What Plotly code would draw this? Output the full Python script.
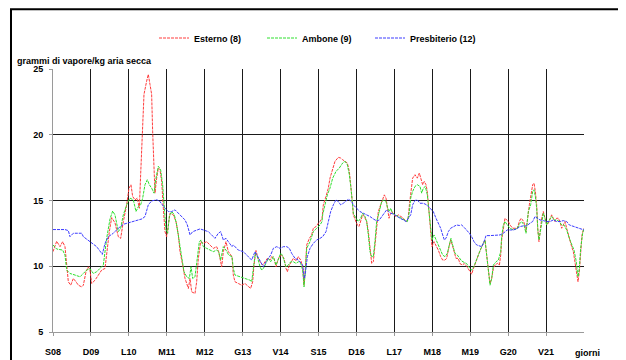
import plotly.graph_objects as go

day_labels = ["S08", "D09", "L10", "M11", "M12", "G13", "V14",
              "S15", "D16", "L17", "M18", "M19", "G20", "V21"]
day_pos = list(range(len(day_labels)))
y_ticks = [5, 10, 15, 20, 25]

esterno_t = [0.00, 0.097, 0.185, 0.255, 0.316, 0.36, 0.404, 0.466, 0.536, 0.606, 0.668, 0.756, 0.80, 0.87, 0.931, 0.975,
             1.02, 1.107, 1.195, 1.283, 1.371, 1.415, 1.485, 1.547, 1.635, 1.722, 1.784, 1.854, 1.942, 2.004, 2.056, 2.10,
             2.162, 2.223, 2.276, 2.311, 2.346, 2.399, 2.469, 2.513, 2.557, 2.601, 2.627, 2.663, 2.689, 2.733, 2.777, 2.821,
             2.865, 2.909, 2.953, 2.997, 3.041, 3.085, 3.173, 3.243, 3.305, 3.349, 3.419, 3.481, 3.569, 3.613, 3.657, 3.744,
             3.788, 3.832, 3.893, 3.964, 4.052, 4.139, 4.227, 4.315, 4.368, 4.403, 4.447, 4.491, 4.561, 4.623, 4.720, 4.754,
             4.798, 4.886, 4.974, 5.062, 5.150, 5.211, 5.264, 5.299, 5.352, 5.396, 5.458, 5.528, 5.590, 5.651, 5.722, 5.766,
             5.827, 5.880, 5.915, 5.968, 6.030, 6.091, 6.144, 6.179, 6.232, 6.293, 6.337, 6.381, 6.425, 6.469, 6.531, 6.583,
             6.618, 6.653, 6.689, 6.759, 6.820, 6.864, 6.935, 6.996, 7.040, 7.093, 7.127, 7.198, 7.259, 7.303, 7.374, 7.435,
             7.523, 7.584, 7.637, 7.699, 7.760, 7.813, 7.856, 7.892, 7.918, 7.962, 8.023, 8.067, 8.111, 8.164, 8.208, 8.270,
             8.314, 8.358, 8.402, 8.445, 8.489, 8.533, 8.577, 8.639, 8.692, 8.736, 8.780, 8.824, 8.859, 8.886, 8.930, 8.991,
             9.044, 9.106, 9.168, 9.238, 9.309, 9.361, 9.396, 9.431, 9.482, 9.544, 9.605, 9.658, 9.702, 9.746, 9.790, 9.834,
             9.869, 9.913, 9.957, 9.992, 10.045, 10.098, 10.159, 10.221, 10.274, 10.335, 10.379, 10.432, 10.484, 10.528,
             10.572, 10.625, 10.686, 10.730, 10.792, 10.845, 10.906, 10.977, 11.038, 11.082, 11.126, 11.170, 11.232, 11.285,
             11.346, 11.390, 11.434, 11.478, 11.522, 11.566, 11.610, 11.654, 11.716, 11.769, 11.804, 11.829, 11.873, 11.917,
             11.961, 12.005, 12.049, 12.119, 12.180, 12.242, 12.295, 12.339, 12.383, 12.427, 12.471, 12.515, 12.559, 12.603,
             12.647, 12.682, 12.717, 12.752, 12.778, 12.813, 12.840, 12.884, 12.928, 12.972, 13.016, 13.060, 13.104, 13.147,
             13.191, 13.235, 13.279, 13.323, 13.367, 13.411, 13.455, 13.499, 13.543, 13.587, 13.631, 13.675, 13.719, 13.763,
             13.807, 13.842, 13.877, 13.912, 13.947, 13.982, 14.0]
esterno_v = [11.11, 11.9, 11.49, 11.87, 11.49, 10.09, 8.82, 8.56, 9.07, 8.82, 8.56, 8.43, 8.56, 9.58, 9.96, 9.71,
             8.69, 8.94, 9.33, 9.71, 9.83, 11.11, 12.63, 13.7, 13.3, 12.25, 12.12, 13.40, 14.67, 15.94, 16.20, 15.31,
             15.05, 15.18, 14.41, 16.96, 19.25, 23.07, 24.08, 24.59, 23.83, 23.07, 20.27, 16.96, 15.56, 16.70, 17.47, 17.34,
             16.45, 14.41, 12.63, 12.25, 13.02, 14.03, 13.91, 13.40, 12.38, 11.11, 10.09, 9.07, 8.31, 9.07, 8.05, 7.93,
             8.82, 10.60, 11.87, 11.74, 11.87, 11.62, 11.36, 11.49, 11.11, 10.60, 9.96, 11.11, 11.87, 11.11, 10.73, 9.33,
             8.82, 8.69, 8.56, 8.69, 8.43, 8.31, 8.82, 10.09, 11.2, 10.7, 10.34, 10.09, 10.34, 10.60, 10.47, 10.73,
             10.60, 9.96, 10.34, 10.73, 10.85, 10.60, 9.83, 9.58, 10.09, 10.34, 10.60, 10.47, 10.47, 10.73, 10.47, 9.96,
             8.56, 9.83, 11.62, 12.12, 12.38, 12.89, 13.02, 13.27, 13.40, 13.65, 14.67, 15.31, 15.94, 16.70, 17.47, 17.98,
             18.28, 18.23, 18.10, 17.98, 17.85, 17.21, 16.20, 14.92, 13.91, 13.52, 13.14, 13.02, 13.40, 13.91, 13.78, 13.40,
             12.63, 11.49, 10.22, 10.34, 11.62, 13.40, 14.16, 14.67, 15.18, 15.43, 15.18, 14.16, 13.65, 13.91, 14.16, 13.91,
             13.78, 13.91, 13.78, 13.65, 13.40, 13.52, 14.67, 15.69, 16.7, 16.96, 16.70, 17.09, 16.58, 16.20, 16.45, 16.20,
             15.69, 14.16, 12.38, 11.49, 11.87, 11.62, 11.23, 10.73, 10.47, 10.47, 10.60, 11.36, 12.0, 11.62,
             11.11, 10.60, 10.6, 10.2, 10.1, 10.2, 10.0, 9.7, 9.4, 9.8, 10.2, 10.60, 10.98, 11.36,
             11.74, 12.0, 10.85, 9.58, 8.69, 9.07, 9.83, 10.09, 10.22, 10.09, 10.85, 12.0, 12.89, 13.65,
             13.52, 13.40, 13.14, 12.89, 12.89, 12.89, 13.40, 13.65, 13.52, 13.27, 12.63, 13.91, 14.67, 15.43,
             16.20, 16.32, 15.69, 14.67, 12.89, 11.87, 12.63, 13.65, 14.16, 13.65, 13.14, 13.27, 13.65, 13.91,
             13.65, 13.40, 13.65, 13.65, 13.40, 12.89, 13.14, 13.40, 12.89, 12.38, 12.0, 11.49, 11.11, 10.34,
             9.58, 8.82, 9.58, 11.11, 12.38, 12.76, 12.89]

ambone_t = [0.00, 0.097, 0.255, 0.316, 0.36, 0.448, 0.58, 0.712, 0.80, 0.888, 0.975, 1.063, 1.151, 1.239, 1.327, 1.415,
            1.503, 1.573, 1.635, 1.722, 1.784, 1.854, 1.942, 2.03, 2.118, 2.188, 2.25, 2.311, 2.364, 2.425, 2.487, 2.540,
            2.601, 2.663, 2.715, 2.777, 2.838, 2.891, 2.935, 2.979, 3.023, 3.067, 3.129, 3.199, 3.261, 3.331, 3.393, 3.454,
            3.525, 3.595, 3.639, 3.683, 3.744, 3.788, 3.858, 3.902, 3.964, 4.052, 4.139, 4.227, 4.315, 4.368, 4.421, 4.491,
            4.561, 4.632, 4.720, 4.754, 4.798, 4.930, 5.062, 5.194, 5.238, 5.282, 5.334, 5.387, 5.458, 5.502, 5.546, 5.634,
            5.678, 5.739, 5.809, 5.880, 5.942, 6.003, 6.047, 6.091, 6.144, 6.206, 6.267, 6.337, 6.407, 6.469, 6.531, 6.583,
            6.618, 6.653, 6.689, 6.776, 6.864, 6.952, 7.040, 7.093, 7.110, 7.171, 7.233, 7.303, 7.374, 7.461, 7.549, 7.637,
            7.699, 7.760, 7.813, 7.856, 7.892, 7.918, 7.988, 8.050, 8.111, 8.164, 8.226, 8.270, 8.314, 8.358, 8.402, 8.445,
            8.489, 8.533, 8.604, 8.665, 8.727, 8.780, 8.824, 8.868, 8.903, 8.956, 9.018, 9.106, 9.194, 9.282, 9.344, 9.396,
            9.431, 9.482, 9.544, 9.605, 9.676, 9.720, 9.764, 9.816, 9.869, 9.913, 9.957, 9.992, 10.045, 10.098, 10.159,
            10.221, 10.274, 10.335, 10.397, 10.449, 10.493, 10.537, 10.598, 10.660, 10.712, 10.774, 10.836, 10.906, 10.977,
            11.038, 11.100, 11.170, 11.232, 11.285, 11.346, 11.390, 11.434, 11.478, 11.522, 11.566, 11.610, 11.681, 11.742,
            11.804, 11.829, 11.873, 11.917, 11.978, 12.049, 12.137, 12.242, 12.312, 12.356, 12.418, 12.471, 12.532, 12.594,
            12.647, 12.682, 12.717, 12.752, 12.787, 12.813, 12.849, 12.893, 12.928, 12.972, 13.016, 13.086, 13.147, 13.209,
            13.279, 13.349, 13.411, 13.472, 13.543, 13.613, 13.675, 13.736, 13.789, 13.842, 13.877, 13.912, 13.965, 14.0]
ambone_v = [11.62, 11.31, 11.23, 10.85, 9.71, 9.45, 9.33, 9.20, 9.45, 9.71, 9.83, 9.45, 9.58, 9.83, 10.09, 12.12,
            13.60, 14.2, 13.9, 12.63, 12.89, 13.91, 14.67, 15.18, 15.05, 14.16, 14.54, 14.67, 15.18, 16.20, 16.58, 16.20,
            15.94, 15.56, 16.70, 17.60, 17.34, 16.20, 14.41, 12.76, 12.51, 13.78, 14.16, 13.91, 13.14, 11.87, 10.60, 9.58,
            9.20, 9.07, 9.96, 9.07, 9.20, 10.09, 11.87, 12.0, 11.49, 11.36, 11.23, 11.11, 11.23, 11.11, 10.47, 11.49,
            11.23, 10.85, 10.73, 9.83, 9.33, 9.20, 9.07, 8.94, 8.82, 9.83, 11.0, 10.73, 9.96, 9.71, 9.83, 10.34,
            10.60, 10.34, 10.73, 10.09, 10.60, 10.98, 10.85, 10.34, 9.96, 10.09, 10.34, 10.34, 10.22, 10.34, 10.22, 9.71,
            8.43, 9.58, 11.36, 11.87, 12.63, 12.89, 13.14, 13.40, 13.91, 14.67, 15.43, 15.94, 16.70, 17.21, 17.47, 17.85,
            17.98, 17.72, 16.96, 15.94, 14.67, 14.03, 13.65, 13.40, 13.65, 14.03, 13.78, 13.40, 12.38, 11.11, 10.73, 10.73,
            11.87, 13.40, 14.16, 14.92, 15.05, 14.92, 14.41, 14.16, 14.41, 14.03, 13.91, 13.78, 13.65, 13.52, 13.40, 14.16,
            15.18, 15.69, 16.07, 16.20, 16.07, 15.56, 15.94, 16.07, 15.43, 14.16, 12.63, 12.0, 12.38, 12.0, 11.62,
            11.11, 10.85, 10.73, 10.98, 11.62, 12.12, 11.62, 10.98, 10.85, 10.6, 10.4, 10.3, 10.2, 9.9,
            9.7, 10.0, 10.45, 10.98, 11.36, 11.74, 12.0, 10.85, 9.58, 8.56, 9.07, 10.09, 10.34, 10.47,
            11.11, 12.25, 13.14, 13.40, 13.14, 12.89, 12.76, 12.89, 13.27, 13.40, 13.14, 12.51, 14.16, 14.67,
            15.69, 15.82, 15.31, 14.41, 12.63, 12.0, 12.63, 13.65, 14.03, 13.65, 13.14, 13.52, 13.78, 13.52,
            13.52, 13.40, 13.14, 13.14, 12.76, 12.12, 11.62, 11.23, 10.47, 9.20, 9.83, 11.36, 12.51, 12.89]

presbiterio_t = [0.00, 0.316, 0.404, 0.448, 0.536, 0.756, 0.80, 0.975, 1.151, 1.283, 1.30, 1.371, 1.459, 1.591, 1.722,
                 1.854, 2.03, 2.206, 2.346, 2.425, 2.513, 2.601, 2.733, 2.804, 2.865, 2.953, 3.041, 3.129, 3.217, 3.305,
                 3.393, 3.481, 3.542, 3.613, 3.683, 3.788, 3.876, 3.964, 4.096, 4.183, 4.271, 4.359, 4.421, 4.491, 4.561,
                 4.623, 4.720, 4.754, 4.798, 4.886, 5.018, 5.150, 5.238, 5.326, 5.414, 5.502, 5.546, 5.616, 5.678, 5.739,
                 5.809, 5.898, 5.986, 6.074, 6.162, 6.232, 6.293, 6.381, 6.469, 6.531, 6.583, 6.627, 6.653, 6.706, 6.776,
                 6.864, 6.952, 7.040, 7.110, 7.198, 7.259, 7.321, 7.391, 7.461, 7.523, 7.584, 7.655, 7.725, 7.786, 7.874,
                 7.918, 8.006, 8.094, 8.182, 8.270, 8.358, 8.445, 8.533, 8.604, 8.665, 8.727, 8.797, 8.842, 8.903, 8.974,
                 9.062, 9.150, 9.238, 9.309, 9.370, 9.431, 9.482, 9.544, 9.605, 9.676, 9.764, 9.852, 9.939, 10.027,
                 10.098, 10.159, 10.221, 10.274, 10.318, 10.361, 10.423, 10.484, 10.555, 10.642, 10.712, 10.774, 10.845,
                 10.906, 10.977, 11.038, 11.100, 11.170, 11.241, 11.302, 11.364, 11.417, 11.522, 11.654, 11.786, 11.873,
                 11.917, 11.978, 12.049, 12.137, 12.224, 12.312, 12.400, 12.488, 12.576, 12.647, 12.708, 12.770, 12.840,
                 12.928, 13.016, 13.104, 13.191, 13.279, 13.367, 13.455, 13.543, 13.613, 13.675, 13.763, 13.851, 13.938, 14.0]
presbiterio_v = [12.79, 12.79, 12.71, 12.25, 12.51, 12.51, 12.25, 11.87, 11.49, 10.98, 10.9, 11.74, 12.25, 12.51, 12.89,
                 13.19, 13.35, 13.52, 13.6, 13.78, 14.67, 14.97, 15.05, 14.97, 14.72, 14.41, 14.16, 14.16, 14.29, 14.03,
                 13.78, 13.52, 13.14, 12.38, 12.63, 12.76, 12.84, 12.76, 12.63, 12.38, 12.12, 12.51, 12.63, 12.0, 12.12,
                 11.87, 11.49, 11.62, 11.49, 11.23, 11.11, 10.73, 10.47, 11.11, 10.60, 10.09, 9.96, 10.34, 10.60, 10.85,
                 11.36, 11.49, 11.36, 11.49, 11.49, 11.36, 10.98, 10.60, 10.47, 10.22, 10.09, 9.07, 9.45, 10.73, 11.36,
                 11.74, 12.0, 12.12, 12.25, 12.63, 13.40, 14.16, 14.67, 15.05, 14.92, 14.67, 14.79, 14.97, 15.1, 14.92,
                 14.67, 14.41, 14.16, 14.03, 13.91, 13.78, 13.6, 13.45, 13.52, 13.78, 14.03, 14.29, 14.16, 14.03, 13.97,
                 13.78, 13.65, 13.52, 13.40, 13.65, 13.91, 14.67, 15.0, 15.05, 14.79, 14.79, 14.67, 14.41, 14.16,
                 13.65, 13.27, 12.89, 12.38, 12.0, 12.12, 12.63, 12.89, 13.02, 13.14, 13.10, 13.14, 12.94,
                 12.76, 12.51, 12.25, 11.87, 11.62, 11.56, 11.49, 11.87, 12.33, 12.33, 12.38, 12.38, 12.51,
                 12.63, 12.76, 12.76, 12.76, 12.84, 13.02, 13.07, 13.07, 13.27, 13.40, 13.78, 13.65, 13.52,
                 13.47, 13.40, 13.40, 13.52, 13.40, 13.40, 13.47, 13.40, 13.14, 13.07, 12.97, 12.89, 12.81, 12.76]

FONT = "Liberation Sans, Arial, sans-serif"
W, H = 618, 352  # page adds an 8px body margin

fig = go.Figure()
fig.add_trace(go.Scatter(x=esterno_t, y=esterno_v, mode="lines", name="Esterno (8)",
                         line=dict(color="#ff3c3c", width=1, dash="3px,1px")))
fig.add_trace(go.Scatter(x=ambone_t, y=ambone_v, mode="lines", name="Ambone (9)",
                         line=dict(color="#2ee02e", width=1, dash="3px,1px")))
fig.add_trace(go.Scatter(x=presbiterio_t, y=presbiterio_v, mode="lines", name="Presbiterio (12)",
                         line=dict(color="#3c3cff", width=1, dash="3px,1px")))

fig.update_layout(
    width=W, height=H,
    margin=dict(l=45, r=42, t=61, b=28, autoexpand=False),
    paper_bgcolor="white", plot_bgcolor="white",
    font=dict(family=FONT, size=9, color="#000000", weight="bold"),
    showlegend=True,
    legend=dict(orientation="h", xref="container", yref="container",
                x=146 / W, y=1 - 30 / H, xanchor="left", yanchor="middle",
                entrywidth=63, entrywidthmode="pixels",
                font=dict(family=FONT, size=9, color="#000000", weight="bold"),
                bgcolor="rgba(0,0,0,0)"),
    xaxis=dict(range=[0, 14], tickvals=day_pos, ticktext=day_labels, showgrid=True, automargin=False,
               gridcolor="#1a1a1a", gridwidth=1, showline=True, linecolor="#9a9a9a", linewidth=1,
               ticks="outside", ticklen=3, tickcolor="#9a9a9a", zeroline=False,
               ticklabelstandoff=8,
               tickfont=dict(family=FONT, size=9, color="#000000", weight="bold")),
    yaxis=dict(range=[5, 25], tickvals=y_ticks, showgrid=True, automargin=False,
               gridcolor="#1a1a1a", gridwidth=1, showline=True, linecolor="#9a9a9a", linewidth=1,
               ticks="outside", ticklen=3, tickcolor="#9a9a9a", zeroline=False,
               ticklabelstandoff=4,
               tickfont=dict(family=FONT, size=9, color="#000000", weight="bold")),
    annotations=[
        dict(text="grammi di vapore/kg aria secca", xref="paper", yref="paper",
             x=-0.0716, y=1.0323, xanchor="left", yanchor="middle", showarrow=False,
             font=dict(family=FONT, size=9, color="#000000", weight="bold")),
        dict(text="giorni", xref="paper", yref="paper",
             x=1.0075, y=-0.0817, xanchor="center", yanchor="middle", showarrow=False,
             font=dict(family=FONT, size=9, color="#000000", weight="bold")),
    ],
    shapes=[
        dict(type="rect", xref="paper", yref="paper", x0=-0.0791, x1=1.0697, y0=-0.2, y1=1.2274,
             line=dict(color="#000000", width=2), fillcolor="rgba(0,0,0,0)", layer="above"),
    ],
)

fig.write_html("out.html")
